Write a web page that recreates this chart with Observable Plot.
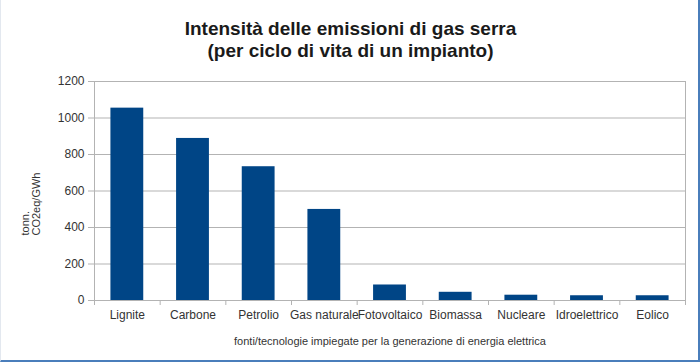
<!DOCTYPE html>
<html>
<head>
<meta charset="utf-8">
<script src="https://cdn.jsdelivr.net/npm/d3@7"></script>
<script src="https://cdn.jsdelivr.net/npm/@observablehq/plot@0.6"></script>
<style>
  html, body { margin: 0; padding: 0; background: #fff; }
  #wrap { position: relative; width: 700px; height: 363px; overflow: hidden; }
  #frame { position: absolute; left: 0; top: 0; width: 697px; height: 360px;
           border-left: 1px solid #e3e8ef; border-right: 2px solid #4a7ebb; border-bottom: 2px solid #4a7ebb;
           pointer-events: none; }
</style>
</head>
<body>
<div id="wrap"><div id="frame"></div></div>
<script>
const categories = ["Lignite", "Carbone", "Petrolio", "Gas naturale", "Fotovoltaico", "Biomassa", "Nucleare", "Idroelettrico", "Eolico"];
const values = [1054, 888, 733, 499, 85, 45, 29, 26, 26];
const yTicks = [0, 200, 400, 600, 800, 1000, 1200];
const titleLines = ["Intensità delle emissioni di gas serra", "(per ciclo di vita di un impianto)"];
const yLabel = "tonn.\nCO2eq/GWh";
const xLabel = "fonti/tecnologie impiegate per la generazione di energia elettrica";

const data = categories.map((c, i) => ({cat: c, i, v: values[i]}));
const boundaries = d3.range(categories.length + 1);
const centers = categories.map((c, i) => i + 0.5);

const chart = Plot.plot({
  width: 700,
  height: 363,
  marginLeft: 94,
  marginRight: 15,
  marginTop: 81,
  marginBottom: 63,
  style: {fontFamily: "'Liberation Sans', Arial, sans-serif", background: "transparent", overflow: "visible"},
  x: {domain: [0, categories.length], axis: null, label: null},
  y: {domain: [0, 1200], axis: null, label: null},
  marks: [
    Plot.gridY(yTicks, {stroke: "#b3b3b3", strokeOpacity: 1}),
    Plot.ruleX([categories.length], {stroke: "#b3b3b3"}),
    Plot.rectY(data, {x1: d => d.i + 0.25, x2: d => d.i + 0.75, y: "v", fill: "#004586"}),
    Plot.ruleX([0], {stroke: "#b3b3b3"}),
    Plot.ruleY([0], {stroke: "#b3b3b3"}),
    Plot.axisY(yTicks, {label: null, tickSize: 6, tickPadding: 4, tickFormat: d => String(d), stroke: "#b3b3b3", strokeOpacity: 1, fill: "#333", fontSize: 12}),
    Plot.axisX(boundaries, {label: null, tickSize: 5, tickFormat: () => "", stroke: "#b3b3b3", strokeOpacity: 1}),
    Plot.axisX(centers, {label: null, tickSize: 0, tickPadding: 10, tickFormat: x => categories[Math.floor(x)], fill: "#333", fontSize: 12}),
    Plot.text([titleLines[0]], {frameAnchor: "top", dx: -39.5, dy: -53, text: d => d, fontSize: 19, fontWeight: "bold", fill: "#1a1a1a", lineAnchor: "middle"}),
    Plot.text([titleLines[1]], {frameAnchor: "top", dx: -39.5, dy: -31, text: d => d, fontSize: 19, fontWeight: "bold", fill: "#1a1a1a", lineAnchor: "middle"}),
    Plot.text([yLabel], {frameAnchor: "left", dx: -64, dy: 44.5, rotate: -90, text: d => d, fontSize: 11, fill: "#333", lineAnchor: "middle", lineHeight: 1.0}),
    Plot.text([xLabel], {frameAnchor: "bottom", dy: 41, text: d => d, fontSize: 11, fill: "#333", lineAnchor: "middle"})
  ]
});
document.getElementById("wrap").prepend(chart);
</script>
</body>
</html>
